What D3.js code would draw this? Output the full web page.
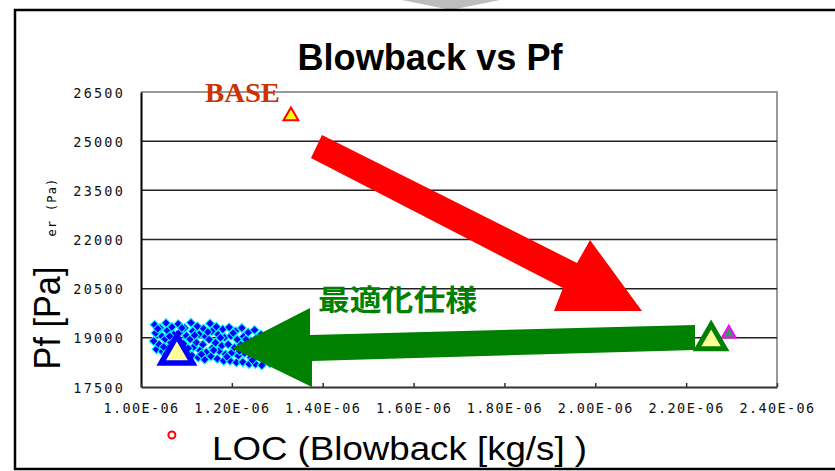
<!DOCTYPE html>
<html><head><meta charset="utf-8">
<script src="https://cdn.jsdelivr.net/npm/d3@7"></script>
<style>
html,body{margin:0;padding:0;background:#fff;}
svg{display:block;}
</style></head>
<body>
<svg id="chart" width="835" height="471"></svg>
<script>
// ---- data ----
const xTicks = [1.0, 1.2, 1.4, 1.6, 1.8, 2.0, 2.2, 2.4];           // units of 1E-06 kg/s
const xTickLabels = ["1.00E-06","1.20E-06","1.40E-06","1.60E-06","1.80E-06","2.00E-06","2.20E-06","2.40E-06"];
const yTicks = [17500, 19000, 20500, 22000, 23500, 25000, 26500];
const yTickLabels = ["17500","19000","20500","22000","23500","25000","26500"];

// DOE cloud (blowback x1E-06, Pf)
const cloudPts = [
 [1.030,19400],[1.032,19150],[1.028,18900],[1.034,18650],
 [1.042,19300],[1.046,19050],[1.040,18800],[1.047,18580],
 [1.055,19450],[1.058,19220],[1.053,18960],[1.060,18700],[1.056,18520],
 [1.068,19330],[1.072,19100],[1.066,18860],[1.074,18620],
 [1.082,19420],[1.086,19180],[1.080,18920],[1.088,18680],[1.084,18450],
 [1.096,19300],[1.100,19060],[1.094,18820],[1.102,18560],
 [1.110,19460],[1.114,19200],[1.108,18960],[1.116,18720],[1.112,18460],
 [1.124,19350],[1.128,19110],[1.122,18860],[1.130,18610],[1.126,18400],
 [1.138,19280],[1.142,19040],[1.136,18800],[1.144,18560],[1.140,18340],
 [1.152,19440],[1.156,19200],[1.150,18950],[1.158,18700],[1.154,18440],
 [1.166,19340],[1.170,19100],[1.164,18850],[1.172,18600],[1.168,18360],
 [1.180,19260],[1.184,19010],[1.178,18760],[1.186,18500],[1.182,18300],
 [1.194,19320],[1.198,19060],[1.192,18800],[1.200,18550],[1.196,18300],
 [1.208,19200],[1.212,18950],[1.206,18700],[1.214,18450],[1.210,18250],
 [1.222,19300],[1.226,19040],[1.220,18790],[1.228,18540],[1.224,18260],
 [1.236,19160],[1.240,18900],[1.234,18650],[1.242,18400],[1.238,18200],
 [1.250,19240],[1.254,18990],[1.248,18740],[1.256,18480],[1.252,18200],
 [1.264,19100],[1.268,18850],[1.262,18600],[1.270,18350],[1.266,18160],
 [1.278,18950],[1.282,18700],[1.276,18450],[1.284,18220],
 [1.292,18800],[1.296,18560],[1.290,18300],
 [1.037,19280],[1.050,18720],[1.063,19050],[1.077,18500],[1.090,19300],
 [1.104,18680],[1.118,19080],[1.133,18500],[1.147,19180],[1.160,18620],
 [1.175,19000],[1.189,18420],[1.203,19150],[1.217,18600],[1.231,18950],
 [1.245,18320],[1.259,18900],[1.273,18550],[1.287,18400]
];

// highlighted designs
const basePt    = {x: 1.330, y: 25768};   // BASE
const optBlue   = {x: 1.079, y: 18507};   // optimum (blue)
const optGreen  = {x: 2.255, y: 18913};   // green design
const optPink   = {x: 2.294, y: 19132};   // small magenta design
const strayPt   = {x: 1.068, y: 16036};   // red circle below axis

// annotation arrows, in data space
const redArrow = [[1.3984,25188],[1.9598,21283],[1.9884,21985],[2.1028,19819],[1.9091,19819],[1.9289,20520],[1.3742,24487]];
const greenArrow = [[1.2003,18690],[1.372,19910],[1.372,19087],[2.2195,19392],[2.2195,18629],[1.3764,18293],[1.3764,17500]];

// ---- drawing ----
const svg = d3.select("#chart");
const x = d3.scaleLinear().domain([1.0, 2.4]).range([141, 777]);
const y = d3.scaleLinear().domain([17500, 26500]).range([387, 92]);

// top grey arrow tip (decoration)
svg.append("path").attr("d", "M402,0 L500,0 L451,10 Z").attr("fill", "#bdbdbd");

// outer frame
svg.append("rect").attr("x", 15).attr("y", 10).attr("width", 850).attr("height", 459)
  .attr("fill", "none").attr("stroke", "#000").attr("stroke-width", 2.5);

// title
svg.append("text").attr("x", 430).attr("y", 70).attr("text-anchor", "middle")
  .attr("font-family", "Liberation Sans, Arial, sans-serif").attr("font-weight", "bold")
  .attr("font-size", 36).attr("textLength", 265).attr("lengthAdjust", "spacingAndGlyphs")
  .text("Blowback vs Pf");

// plot border (top/right grey)
svg.append("path")
  .attr("d", `M${x(1.0)},${y(26500)} H${x(2.4)} V${y(17500)}`)
  .attr("fill", "none").attr("stroke", "#999").attr("stroke-width", 2);

// gridlines
svg.append("g").selectAll("line").data(yTicks.filter(d => d !== 17500 && d !== 26500)).join("line")
  .attr("x1", x(1.0)).attr("x2", x(2.4)).attr("y1", d => y(d)).attr("y2", d => y(d))
  .attr("stroke", "#222").attr("stroke-width", 1.5);

// y axis
const yAxis = svg.append("g").attr("transform", `translate(${x(1.0)},0)`)
  .call(d3.axisLeft(y).tickValues(yTicks).tickFormat((d, i) => yTickLabels[i]).tickSize(0).tickPadding(18));
yAxis.select(".domain").attr("stroke", "#000").attr("stroke-width", 2);
yAxis.selectAll("text").attr("font-family", "DejaVu Sans Mono, monospace").attr("font-size", 13.5)
  .attr("letter-spacing", 2.2).attr("fill", "#111").attr("dy", "0.38em").attr("x", -16);

// x axis
const xAxis = svg.append("g").attr("transform", `translate(0,${y(17500)})`)
  .call(d3.axisBottom(x).tickValues(xTicks).tickFormat((d, i) => xTickLabels[i]).tickSizeInner(-4).tickSizeOuter(0));
xAxis.select(".domain").attr("stroke", "#333").attr("stroke-width", 2);
xAxis.selectAll(".tick line").attr("stroke", "#333").attr("stroke-width", 1.5);
xAxis.selectAll("text").attr("font-family", "DejaVu Sans Mono, monospace").attr("font-size", 13.5)
  .attr("letter-spacing", 1.4).attr("fill", "#111").attr("y", 26).attr("dy", 0);

// small truncated axis label
svg.append("text").attr("transform", "translate(56,207) rotate(-90)").attr("text-anchor", "middle")
  .attr("font-family", "DejaVu Sans Mono, monospace").attr("font-size", 12).attr("letter-spacing", 1.2)
  .text("er (Pa)");

// cloud
const sq = d3.symbol().type(d3.symbolSquare).size(40);
svg.append("g").selectAll("path").data(cloudPts).join("path")
  .attr("d", sq)
  .attr("transform", d => `translate(${x(d[0])},${y(d[1])}) rotate(45)`)
  .attr("fill", "#0000ff").attr("stroke", "#00ffff").attr("stroke-width", 1);

// triangles
const tri = s => d3.symbol().type(d3.symbolTriangle).size(s)();
function triMark(p, size, fill, stroke, sw) {
  svg.append("path").attr("d", tri(size))
    .attr("transform", `translate(${x(p.x)},${y(p.y)})`)
    .attr("fill", fill).attr("stroke", stroke).attr("stroke-width", sw).attr("stroke-linejoin", "miter");
}
triMark(basePt, 95, "#ffff00", "#ff0000", 2);
triMark(optPink, 80, "#339966", "#ff00ff", 2);

// stray circle
svg.append("circle").attr("cx", x(strayPt.x)).attr("cy", y(strayPt.y)).attr("r", 3.5)
  .attr("fill", "#fff").attr("stroke", "#ff0000").attr("stroke-width", 2);

// arrows
const line = d3.line().x(d => x(d[0])).y(d => y(d[1])).curve(d3.curveLinearClosed);
svg.append("path").attr("d", line(redArrow)).attr("fill", "#ff0000");
svg.append("path").attr("d", line(greenArrow)).attr("fill", "#008000");

triMark(optBlue, 430, "#ffff99", "#0000ff", 5.5);
triMark(optGreen, 340, "#ffff99", "#008000", 5);

// annotation texts
svg.append("text").attr("x", 205).attr("y", 102)
  .attr("font-family", "Liberation Serif, Times New Roman, serif").attr("font-weight", "bold")
  .attr("font-size", 28).attr("fill", "#cc3300").attr("textLength", 75).attr("lengthAdjust", "spacingAndGlyphs")
  .text("BASE");
svg.append("text").attr("x", 318).attr("y", 311)
  .attr("font-family", "Noto Sans CJK JP, sans-serif").attr("font-weight", "bold")
  .attr("font-size", 29).attr("fill", "#008000").attr("textLength", 159).attr("lengthAdjust", "spacingAndGlyphs")
  .text("最適化仕様");

// axis titles
svg.append("text").attr("x", 212).attr("y", 460)
  .attr("font-family", "Liberation Sans, Arial, sans-serif").attr("font-size", 33)
  .attr("textLength", 375).attr("lengthAdjust", "spacingAndGlyphs")
  .text("LOC (Blowback [kg/s] )");
svg.append("text").attr("transform", "translate(60,318) rotate(-90)").attr("text-anchor", "middle")
  .attr("font-family", "Liberation Sans, Arial, sans-serif").attr("font-size", 36)
  .attr("textLength", 103).attr("lengthAdjust", "spacingAndGlyphs")
  .text("Pf [Pa]");
</script>
</body></html>
